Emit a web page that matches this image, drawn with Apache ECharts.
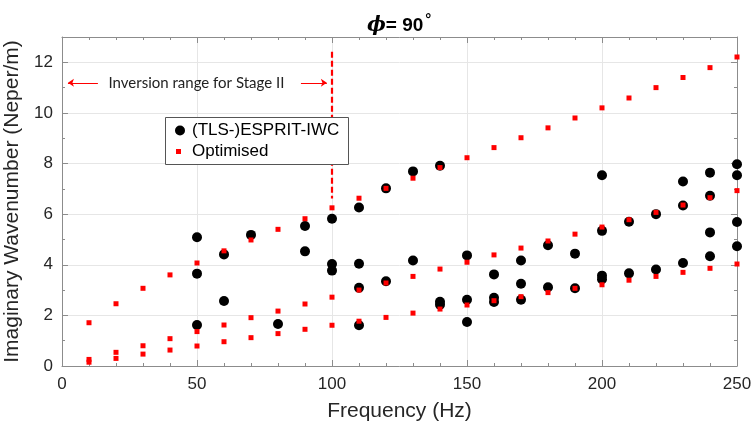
<!DOCTYPE html>
<html><head><meta charset="utf-8">
<script src="https://cdn.jsdelivr.net/npm/echarts@6/dist/echarts.min.js"></script>
<style>html,body{margin:0;padding:0;background:#fff}#c{width:753px;height:428px}</style>
</head><body><div id="c"></div>
<script>
// ---- data ----
const optFreq   = [10,20,30,40,50,60,70,80,90,100,110,120,130,140,150,160,170,180,190,200,210,220,230,240,250];
const optUpper  = [1.71,2.46,3.07,3.60,4.07,4.55,4.98,5.40,5.82,6.25,6.63,7.02,7.42,7.84,8.23,8.63,9.02,9.41,9.80,10.20,10.59,11.00,11.40,11.79,12.21];
const optMiddle = [0.26,0.54,0.80,1.08,1.36,1.62,1.91,2.17,2.45,2.72,3.00,3.28,3.54,3.83,4.10,4.39,4.66,4.94,5.21,5.49,5.78,6.07,6.36,6.65,6.93];
const optLower  = [0.15,0.30,0.47,0.63,0.79,0.96,1.12,1.28,1.45,1.61,1.77,1.92,2.09,2.25,2.41,2.58,2.74,2.90,3.07,3.21,3.39,3.54,3.70,3.86,4.03];
const espritFreq = [50,50,50,60,60,70,80,90,90,100,100,100,110,110,110,110,120,120,130,130,140,140,140,150,150,150,160,160,160,170,170,170,180,180,190,190,200,200,200,200,210,210,220,220,230,230,230,240,240,240,240,250,250,250,250];
const espritVal  = [5.09,3.65,1.62,4.41,2.57,5.18,1.66,5.53,4.53,5.82,4.03,3.77,6.26,4.04,3.09,1.61,7.02,3.35,7.69,4.17,7.91,2.54,2.42,4.37,2.62,1.74,3.62,2.70,2.53,4.17,3.25,2.62,4.77,3.11,4.44,3.07,7.54,5.34,3.57,3.43,5.70,3.66,6.00,3.81,7.29,6.34,4.07,7.64,6.73,5.28,4.34,7.97,7.54,5.69,4.73];
const xTicks = [0,50,100,150,200,250];
const yTicks = [0,2,4,6,8,10,12];
const yMax = 13;
const stageLine = [[100,12.42],[100,6.62]];
const arrowLeft = [[13.3,11.19],[2.2,11.19]];
const arrowRight = [[88.5,11.19],[98.1,11.19]];
const annotText = 'Inversion range for Stage II';
const annotPos = [49.8,11.19];
const titleText = '{phi|\u03d5}{b|= 90}{deg|\u00b0}';
const xName = 'Frequency (Hz)';
const yName = 'Imaginary Wavenumber (Neper/m)';
const names = ['(TLS-)ESPRIT-IWC','Optimised'];

// ---- build ----
const FONT = 'Liberation Sans';
const AX = '#8c8c8c';
const TXT = '#262626';
const pairs = (xs, ys) => xs.map((x,i)=>[x, ys[i]]);
const optData = pairs(optFreq,optUpper).concat(pairs(optFreq,optMiddle), pairs(optFreq,optLower));
const espData = pairs(espritFreq, espritVal);
const xMin = xTicks[0], xMax = xTicks[xTicks.length-1], xInt = xTicks[1]-xTicks[0];
const yMin = yTicks[0], yInt = yTicks[1]-yTicks[0];

function xAxisCfg(pos, main){
  return {type:'value', position:pos, min:xMin, max:xMax, interval:xInt,
    axisLine:{show:true, onZero:false, lineStyle:{color:AX,width:1}},
    axisTick:{show:true, inside:true, length:6, lineStyle:{color:AX}},
    minorTick:{show:true, splitNumber:5, length:3, lineStyle:{color:AX}},
    axisLabel:{show:main, fontSize:17, color:TXT, margin:10, fontFamily:FONT},
    splitLine:{show:main, lineStyle:{color:'#e6e6e6'}},
    name: main ? xName : '', nameLocation:'middle', nameGap:35,
    nameTextStyle:{fontSize:21, color:TXT, fontFamily:FONT}};
}
function yAxisCfg(pos, main, minor){
  return {type:'value', position:pos, min:yMin, max:yMax, interval: minor ? yInt/2 : yInt,
    axisLine:{show:!minor, onZero:false, lineStyle:{color:AX,width:1}},
    axisTick:{show:true, inside:true, length: minor?3:6, lineStyle:{color:AX}},
    axisLabel:{show:main && !minor, fontSize:17, color:TXT, margin:9, fontFamily:FONT,
      formatter: v => (yTicks.indexOf(v) >= 0 ? String(v) : '')},
    splitLine:{show:main && !minor, lineStyle:{color:'#e6e6e6'}},
    name: (main && !minor) ? yName : '', nameLocation:'middle', nameGap:30,
    nameTextStyle:{fontSize:21, color:TXT, fontFamily:FONT}};
}

const chart = echarts.init(document.getElementById('c'), null, {renderer:'canvas'});
chart.setOption({
  animation:false,
  backgroundColor:'#fff',
  title:{text:titleText, left:367, top:12, padding:0,
    textStyle:{rich:{
      phi:{fontFamily:'DejaVu Serif', fontStyle:'italic', fontSize:20, color:'#000'},
      b:{fontFamily:FONT, fontWeight:'bold', fontSize:19, color:'#000'},
      deg:{fontFamily:FONT, fontSize:15, color:'#000', padding:[0,0,12,2]}
    }}},
  grid:{left:62, right:16, top:37, bottom:62, containLabel:false, outerBoundsMode:'none'},
  xAxis:[xAxisCfg('bottom',true), xAxisCfg('top',false)],
  yAxis:[yAxisCfg('left',true,false), yAxisCfg('left',false,true), yAxisCfg('right',false,false), yAxisCfg('right',false,true)],
  legend:[
    {data:[{name:names[0], icon:'circle'}], left:175, top:122, itemWidth:10, itemHeight:10, padding:0,
     selectedMode:false, z:10, textStyle:{fontSize:17, color:'#000', fontFamily:FONT, padding:[0,0,0,2]}},
    {data:[{name:names[1], icon:'rect'}], left:176, top:143, itemWidth:5, itemHeight:5, padding:0,
     selectedMode:false, z:10, textStyle:{fontSize:17, color:'#000', fontFamily:FONT, padding:[0,0,0,6]}}
  ],
  graphic:[{type:'rect', left:165, top:117, z:8, shape:{width:183, height:47},
    style:{fill:'#fff', stroke:'#555', lineWidth:1}}],
  series:[
    {name:names[0], type:'scatter', data:espData, symbol:'circle', symbolSize:10,
     itemStyle:{color:'#000', opacity:1}, z:2, silent:true},
    {name:names[1], type:'scatter', data:optData, symbol:'rect', symbolSize:5,
     itemStyle:{color:'#ff0000', opacity:1}, z:3, silent:true},
    {name:'stage', type:'line', data:[], silent:true, z:4,
     markLine:{silent:true, symbol:['none','none'], label:{show:false},
       lineStyle:{color:'#ff0000', width:2.2, type:[6,3]},
       data:[[{coord:stageLine[0]},{coord:stageLine[1]}]]}},
    {name:'arrows', type:'line', data:[], silent:true, z:4,
     markLine:{silent:true, symbol:['none','arrow'], symbolSize:6, label:{show:false},
       lineStyle:{color:'#ff0000', width:1, type:'solid'},
       data:[[{coord:arrowLeft[0]},{coord:arrowLeft[1]}],[{coord:arrowRight[0]},{coord:arrowRight[1]}]]},
     markPoint:{silent:true, symbol:'circle', symbolSize:1, itemStyle:{color:'rgba(0,0,0,0)'},
       label:{show:true, position:'inside', formatter:annotText, color:'#222', fontSize:15, fontFamily:'Lato'},
       data:[{coord:annotPos}]}}
  ]
});
</script></body></html>
